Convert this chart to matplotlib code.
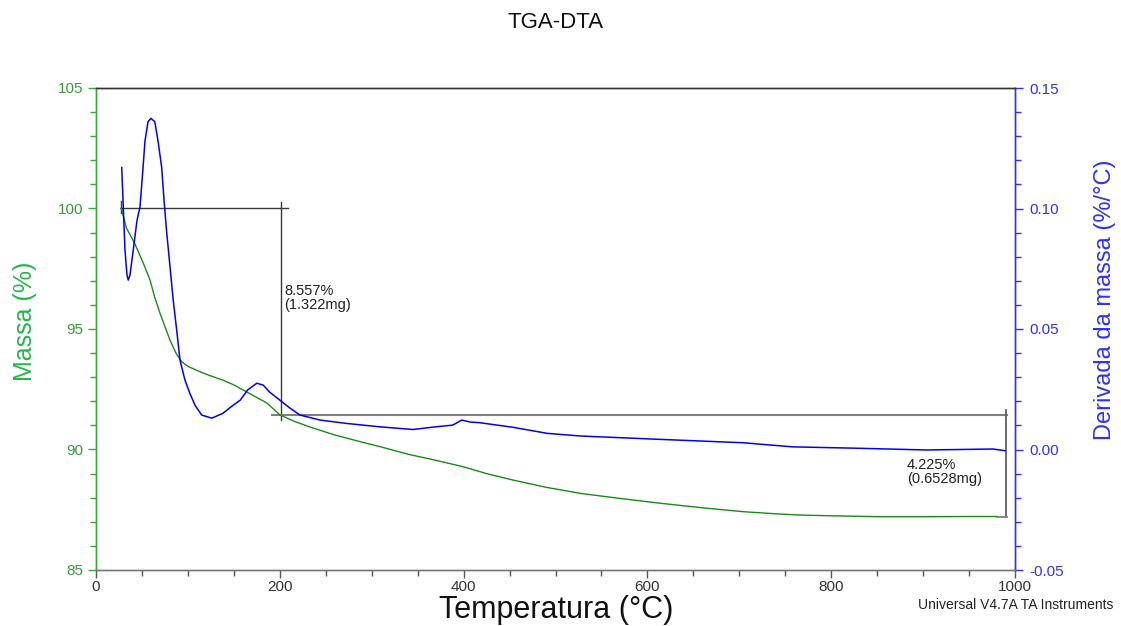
import matplotlib
matplotlib.use("Agg")
import matplotlib.pyplot as plt
from matplotlib.ticker import MultipleLocator, FormatStrFormatter

plt.rcParams['font.family'] = ['Liberation Sans', 'DejaVu Sans']

# TGA: residual mass (%) vs temperature (°C)
temp_tga = [27, 28, 33, 42, 51.5, 58.8, 64, 69.6, 75, 80.5, 87, 93.3, 100, 113,
            125, 138, 150, 160, 173, 186, 200, 215, 233, 260, 290, 309, 340,
            370, 399, 425, 454, 490, 527, 570, 614, 660, 704, 740, 766, 800,
            853, 900, 950, 980]
mass = [100.0, 99.95, 99.2, 98.56, 97.73, 97.03, 96.3, 95.66, 95.1, 94.54,
        94.0, 93.64, 93.45, 93.23, 93.05, 92.88, 92.68, 92.47, 92.2, 91.93,
        91.44, 91.18, 90.93, 90.6, 90.3, 90.12, 89.8, 89.55, 89.29, 89.0,
        88.73, 88.43, 88.18, 87.97, 87.77, 87.58, 87.42, 87.33, 87.28, 87.25,
        87.21, 87.21, 87.22, 87.22]

# DTG: derivative of mass (%/°C) vs temperature (°C)
temp_dtg = [28, 29.4, 31.5, 33.7, 35.1, 37, 40.6, 44.6, 47.9, 51, 53.3, 56.6,
            59.8, 64, 67.5, 71.5, 74, 77, 80.5, 84, 87.8, 91.4, 96.8, 102,
            107.7, 115, 126, 138, 148, 157, 165, 175, 182, 189, 200, 211, 222,
            244, 273, 309, 345, 367, 388, 398, 407, 418, 454, 491, 527, 614,
            704, 758, 831, 904, 976, 989]
deriv = [0.117, 0.1035, 0.083, 0.0724, 0.0703, 0.0724, 0.083, 0.095, 0.1007,
         0.116, 0.128, 0.136, 0.1374, 0.136, 0.128, 0.117, 0.1035, 0.0898,
         0.076, 0.062, 0.0496, 0.0371, 0.0288, 0.0234, 0.0184, 0.0143, 0.013,
         0.015, 0.018, 0.0205, 0.0247, 0.0275, 0.0267, 0.0238, 0.0205, 0.0172,
         0.0143, 0.0122, 0.0108, 0.0094, 0.0083, 0.0093, 0.0101, 0.0122,
         0.0114, 0.0111, 0.0092, 0.0067, 0.0056, 0.0042, 0.0028, 0.0011,
         0.0005, -0.0002, 0.0002, -0.0005]

# Step analysis results
step1_start, step1_end = 100.0, 91.443
step1_temp = 201
step2_end = 87.218
step2_temp = 990
step1_label = "8.557%\n(1.322mg)"
step2_label = "4.225%\n(0.6528mg)"

green_line = '#1a8a1a'
green_axis = '#3aa83a'
green_label = '#22b84a'
blue_line = '#0000ff'
blue_axis = '#3030ff'

fig = plt.figure(figsize=(11.21, 6.26), dpi=100)
ax = fig.add_axes([96 / 1121, 1 - 570 / 626, (1015 - 96) / 1121, (570 - 88) / 626])
ax2 = ax.twinx()

ax.plot(temp_tga, mass, color=green_line, lw=1.0, zorder=3)
ax2.plot(temp_dtg, deriv, color=blue_line, lw=1.1, zorder=3)

# step markers
dark = '#3a3a3a'
gray = '#808080'
ax.plot([27, 209], [step1_start, step1_start], color=dark, lw=1.0)
ax.plot([27, 27], [100.3, 99.8], color=dark, lw=1.0)
ax.plot([step1_temp, step1_temp], [100.28, 91.22], color=dark, lw=1.0)
ax.plot([191, 991], [step1_end, step1_end], color=gray, lw=1.5)
ax.plot([step2_temp, step2_temp], [91.64, step2_end], color='#606060', lw=1.3)
ax.plot([980, 991], [step2_end, step2_end], color=gray, lw=1.3)

ax.text(204.5, 96.3, step1_label, fontsize=10.5, color='#222222', va='center',
        ha='left', linespacing=1.0)
ax.text(882.5, 89.05, step2_label, fontsize=10.5, color='#222222', va='center',
        ha='left', linespacing=1.0)

ax.set_xlim(0, 1000)
ax.set_ylim(85, 105)
ax2.set_ylim(-0.05, 0.15)

ax.xaxis.set_major_locator(MultipleLocator(200))
ax.xaxis.set_minor_locator(MultipleLocator(50))
ax.yaxis.set_major_locator(MultipleLocator(5))
ax.yaxis.set_minor_locator(MultipleLocator(1))
ax2.yaxis.set_major_locator(MultipleLocator(0.05))
ax2.yaxis.set_minor_locator(MultipleLocator(0.01))
ax2.yaxis.set_major_formatter(FormatStrFormatter('%.2f'))

ax.tick_params(axis='x', which='major', length=6, width=1, color='#555555',
               labelsize=11, labelcolor='#333333', pad=1)
ax.tick_params(axis='x', which='minor', length=4, width=1, color='#555555')
ax.tick_params(axis='y', which='major', length=6, width=1, color=green_axis,
               labelsize=11, labelcolor='#3a9a3a', pad=3)
ax.tick_params(axis='y', which='minor', length=4, width=1, color=green_axis)
ax2.tick_params(axis='y', which='major', length=6, width=1, color=blue_axis,
                labelsize=11, labelcolor=blue_axis, pad=4)
ax2.tick_params(axis='y', which='minor', length=4, width=1, color=blue_axis)

for a in (ax, ax2):
    a.spines['left'].set_color(green_axis)
    a.spines['right'].set_color(blue_axis)
    a.spines['top'].set_color('#333333')
    a.spines['bottom'].set_color('#777777')
    for s in a.spines.values():
        s.set_linewidth(1.0)

fig.text(0.496, 1 - 22 / 626, "TGA-DTA", fontsize=16, ha='center', va='center',
         color='#111111')
fig.text(0.496, 1 - 610 / 626, "Temperatura (°C)", fontsize=22, ha='center',
         va='center', color='#111111')
fig.text(25 / 1121, 1 - 321 / 626, "Massa (%)", fontsize=18, rotation=90,
         ha='center', va='center', color=green_label)
fig.text(1105 / 1121, 1 - 300 / 626, "Derivada da massa (%/°C)", fontsize=17,
         rotation=90, ha='center', va='center', color=blue_axis)
fig.text(1113 / 1121, 1 - 605 / 626, "Universal V4.7A TA Instruments", fontsize=10,
         ha='right', va='center', color='#222222')

fig.savefig("out.png", dpi=100)
